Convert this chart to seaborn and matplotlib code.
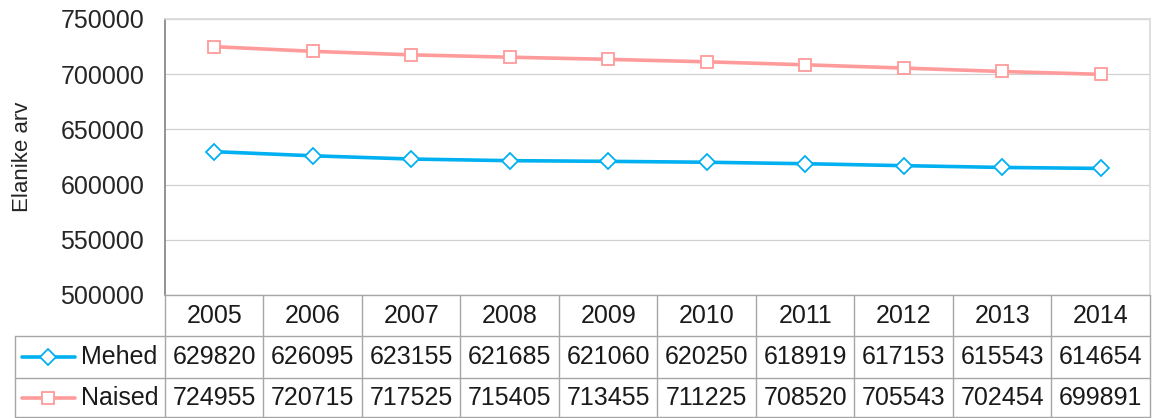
import pandas as pd
import matplotlib
matplotlib.use("Agg")
import matplotlib.pyplot as plt
from matplotlib.lines import Line2D
from matplotlib.transforms import blended_transform_factory
import seaborn as sns

years = [2005, 2006, 2007, 2008, 2009, 2010, 2011, 2012, 2013, 2014]
mehed = [629820, 626095, 623155, 621685, 621060, 620250, 618919, 617153, 615543, 614654]
naised = [724955, 720715, 717525, 715405, 713455, 711225, 708520, 705543, 702454, 699891]
series_names = ["Mehed", "Naised"]
y_ticks = [500000, 550000, 600000, 650000, 700000, 750000]

W, H = 1153, 418
blue = "#00B0F0"
pink = "#FF9B9B"
grid_gray = "#A6A6A6"

df = pd.DataFrame({
    "Aasta": years * 2,
    "Arv": mehed + naised,
    "Sugu": ["Mehed"] * len(years) + ["Naised"] * len(years),
})

sns.set_style("white")
plt.rcParams["font.family"] = ["Liberation Sans", "DejaVu Sans"]

fig = plt.figure(figsize=(W / 100, H / 100), dpi=100)
# plot area in pixels: x 165..1150, y 19..295
ax = fig.add_axes([165 / W, 1 - 295 / H, (1150 - 165) / W, (295 - 19) / H])

styles = {"Mehed": (blue, "D"), "Naised": (pink, "s")}
for name in series_names:
    col, mk = styles[name]
    sns.lineplot(data=df[df["Sugu"] == name], x="Aasta", y="Arv", color=col,
                 marker=mk, linewidth=2.6, markersize=8, markerfacecolor="white",
                 markeredgecolor=col, markeredgewidth=1.3, ax=ax)

ax.set_xlim(years[0] - 0.5, years[-1] + 0.5)
ax.set_ylim(500000, 750000)
ax.set_yticks(y_ticks)
ax.set_yticklabels([str(v) for v in y_ticks], fontsize=18)
ax.set_xticks([])
ax.set_xlabel("")
ax.set_ylabel("Elanike arv", fontsize=16, labelpad=20)
ax.yaxis.grid(True, color="#D0D0D0", linewidth=0.9)
ax.tick_params(axis="y", length=5, color="#808080", pad=10)
for side, sp in ax.spines.items():
    sp.set_color("#D9D9D9")
    sp.set_linewidth(1.2)
ax.spines["left"].set_color("#808080")
ax.spines["bottom"].set_visible(False)

# data table below the plot
tr = blended_transform_factory(ax.transData, fig.transFigure)
def fy(py):
    return 1 - py / H

def fx(px):
    return px / W

rows_y = [295, 336, 378, 417]
# horizontal lines across the data columns
for py in rows_y:
    fig.add_artist(Line2D([fx(165), fx(1150)], [fy(py), fy(py)], color=grid_gray, lw=1.0))
# vertical lines between columns
for i in range(len(years) + 1):
    xv = years[0] - 0.5 + i
    fig.add_artist(Line2D([xv, xv], [fy(295), fy(417)], transform=tr, color=grid_gray, lw=1.0))
# left legend column box
for py in rows_y[1:]:
    fig.add_artist(Line2D([fx(15), fx(165)], [fy(py), fy(py)], color=grid_gray, lw=1.0))
fig.add_artist(Line2D([fx(15), fx(15)], [fy(336), fy(417)], color=grid_gray, lw=1.0))

for yr in years:
    fig.text(yr, fy(316), str(yr), transform=tr, ha="center", va="center", fontsize=18, color="#1a1a1a")
for vals, py in [(mehed, 357), (naised, 398)]:
    for yr, v in zip(years, vals):
        fig.text(yr, fy(py), str(v), transform=tr, ha="center", va="center", fontsize=18, color="#1a1a1a")

# legend keys inside the table
for name, py in [("Mehed", 357), ("Naised", 398)]:
    col, mk = styles[name]
    fig.add_artist(Line2D([fx(22), fx(75)], [fy(py), fy(py)], color=col, lw=2.6))
    fig.add_artist(Line2D([fx(48.5)], [fy(py)], color=col, marker=mk, markersize=8,
                          markerfacecolor="white", markeredgewidth=1.3, lw=0))
    fig.text(fx(81), fy(py), name, ha="left", va="center", fontsize=18, color="#1a1a1a")

plt.savefig("out.png", dpi=100)
